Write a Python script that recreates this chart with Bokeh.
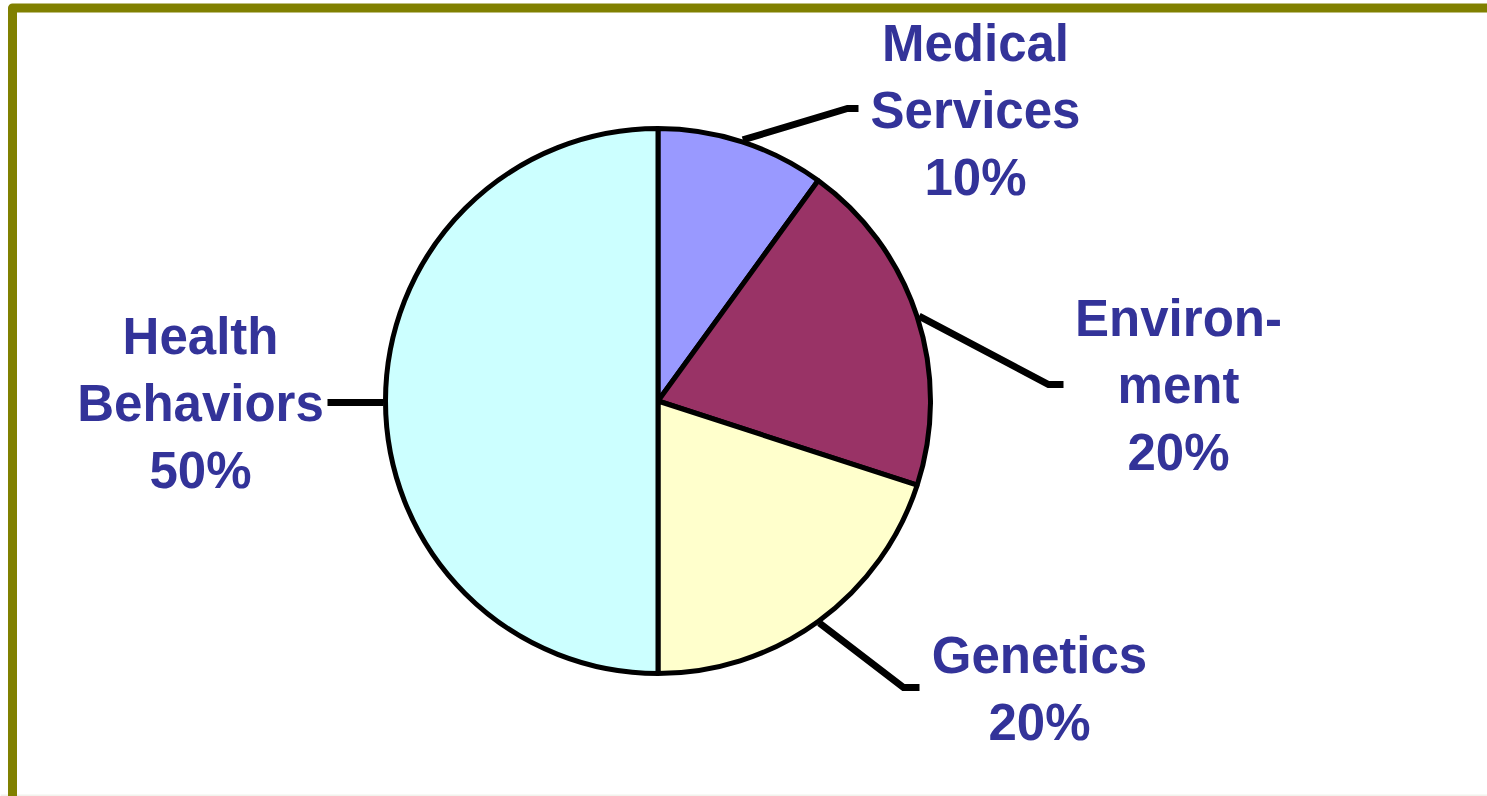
import math
from bokeh.plotting import figure
from bokeh.models import Range1d, ColumnDataSource
from bokeh.core.properties import value
from bokeh.embed import file_html
from bokeh.resources import INLINE

# ---- data ----
categories = ["Medical\nServices", "Environ-\nment", "Genetics", "Health\nBehaviors"]
shares = [10, 20, 20, 50]
colors = ["#9999FF", "#993366", "#FFFFCC", "#CCFFFF"]

# ---- layout (screen pixel coordinates) ----
W, H = 1487, 796
cx, cy, r = 657.5, 400.5, 272.5
label_pos = [(975, 43), (1178, 318), (1039, 655), (200, 336)]  # centre x, first baseline
elbows = [((847, 108), (858, 108)),
          ((1048, 384), (1063, 384)),
          ((903, 687), (919, 687)),
          ((327, 402), (327, 402))]
line_gap = 67

def Y(y):
    return -y

p = figure(width=W, height=H, output_backend="svg", toolbar_location=None,
           x_range=Range1d(0, W), y_range=Range1d(-H, 0),
           min_border=0, background_fill_color="white", border_fill_color="white")
p.axis.visible = False
p.grid.visible = False
p.outline_line_color = None

# faint bottom band
p.quad(left=0, right=W, top=Y(794), bottom=Y(H + 5), fill_color="#F2F2EC", line_color=None)

# olive frame (top + left)
p.line([12, 12, W + 20], [Y(H + 20), Y(7.5), Y(7.5)],
       line_color="#808000", line_width=9, line_join="round")

# pie wedges, clockwise from top
total = float(sum(shares))
starts, ends, mids = [], [], []
acc = 0.0
for v in shares:
    a0 = math.pi / 2 - 2 * math.pi * acc / total
    acc += v
    a1 = math.pi / 2 - 2 * math.pi * acc / total
    starts.append(a0)
    ends.append(a1)
    mids.append((a0 + a1) / 2)

src = ColumnDataSource(dict(x=[cx] * len(shares), y=[Y(cy)] * len(shares),
                            start=starts, end=ends, color=colors))
p.wedge(x="x", y="y", radius=r, start_angle="start", end_angle="end",
        direction="clock", fill_color="color", line_color="black",
        line_width=5, source=src)

# leader lines
for m, (e1, e2) in zip(mids, elbows):
    sx = cx + (r + 2) * math.cos(m)
    sy = cy - (r + 2) * math.sin(m)
    if abs(math.sin(m)) < 1e-6:
        sy = e1[1]
    p.line([sx, e1[0], e2[0]], [Y(sy), Y(e1[1]), Y(e2[1])],
           line_color="black", line_width=7, line_join="miter")

# labels
xs, ys, txts = [], [], []
for cat, v, (lx, ly) in zip(categories, shares, label_pos):
    lines = cat.split("\n") + [f"{v}%"]
    for i, t in enumerate(lines):
        xs.append(lx)
        ys.append(Y(ly + i * line_gap))
        txts.append(t)
p.text(x=xs, y=ys, text=txts, text_align="center", text_baseline="alphabetic",
       text_font=value("Liberation Sans"), text_font_style="bold",
       text_font_size="51px", text_color="#333399")

open("out.html", "w").write(file_html(p, INLINE))
